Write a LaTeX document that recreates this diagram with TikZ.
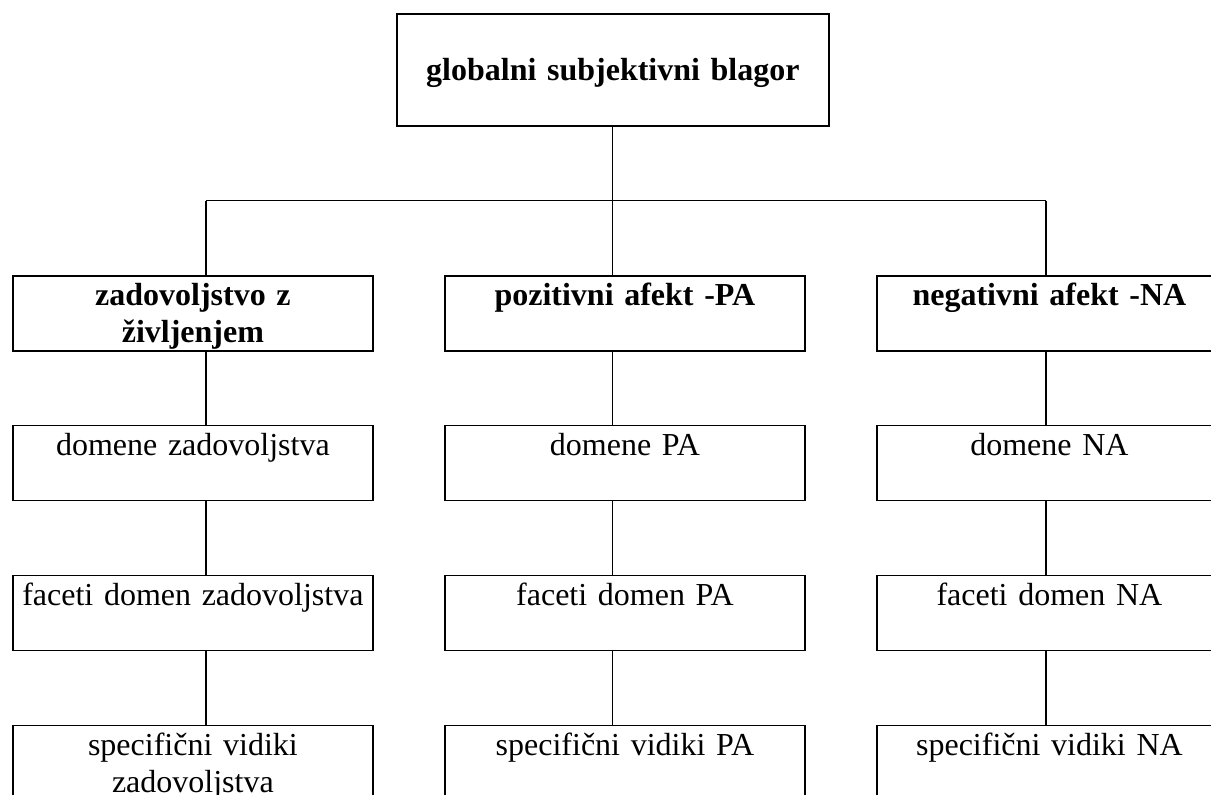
\documentclass[tikz,border=0pt]{standalone}
\usepackage{fontspec}
\setmainfont{Liberation Serif}
\begin{document}
\begin{tikzpicture}[x=0.5pt,y=-0.5pt,line width=0.9pt,
  box/.style={draw,anchor=north west,inner xsep=0pt,inner ysep=0pt,align=center,
    font=\fontsize{16}{18.5}\selectfont,text height=15pt,text depth=22.5pt},
  wbox/.style={box,text width=180pt},
  rbox/.style={box,text width=172.5pt},
  topbox/.style={box,text width=216pt,text height=33.5pt,text depth=22.5pt,
    font=\fontsize{16}{18.5}\selectfont\bfseries},
  head/.style={font=\fontsize{16}{18.5}\selectfont\bfseries}]
\useasboundingbox (0,0) rectangle (1211,794);
\clip (0,0) rectangle (1211,794);
% top
\node[topbox] (top) at (396,13) {globalni subjektivni blagor};
% row 1
\node[wbox,head] (l1) at (12,275) {zadovoljstvo z\\življenjem};
\node[wbox,head] (m1) at (444,275) {pozitivni afekt -PA};
\node[rbox,head] (r1) at (876,275) {negativni afekt -NA};
% row 2
\node[wbox] (l2) at (12,424.5) {domene zadovoljstva};
\node[wbox] (m2) at (444,424.5) {domene PA};
\node[rbox] (r2) at (876,424.5) {domene NA};
% row 3
\node[wbox] (l3) at (12,574.5) {faceti domen zadovoljstva};
\node[wbox] (m3) at (444,574.5) {faceti domen PA};
\node[rbox] (r3) at (876,574.5) {faceti domen NA};
% row 4
\node[wbox] (l4) at (12,724.5) {specifični vidiki\\zadovoljstva};
\node[wbox] (m4) at (444,724.5) {specifični vidiki PA};
\node[rbox] (r4) at (876,724.5) {specifični vidiki NA};
% connectors
\coordinate (cL) at (206,200.5);
\coordinate (cM) at (612.5,200.5);
\coordinate (cR) at (1046,200.5);
\draw (top.south -| cM) -- (cM);
\draw (cL) -- (cR);
\draw (cL) -- (cL |- l1.north);
\draw (cM) -- (cM |- m1.north);
\draw (cR) -- (cR |- r1.north);
\draw (l1.south -| cL) -- (l2.north -| cL);
\draw (l2.south -| cL) -- (l3.north -| cL);
\draw (l3.south -| cL) -- (l4.north -| cL);
\draw (m1.south -| cM) -- (m2.north -| cM);
\draw (m2.south -| cM) -- (m3.north -| cM);
\draw (m3.south -| cM) -- (m4.north -| cM);
\draw (r1.south -| cR) -- (r2.north -| cR);
\draw (r2.south -| cR) -- (r3.north -| cR);
\draw (r3.south -| cR) -- (r4.north -| cR);
\end{tikzpicture}
\end{document}
